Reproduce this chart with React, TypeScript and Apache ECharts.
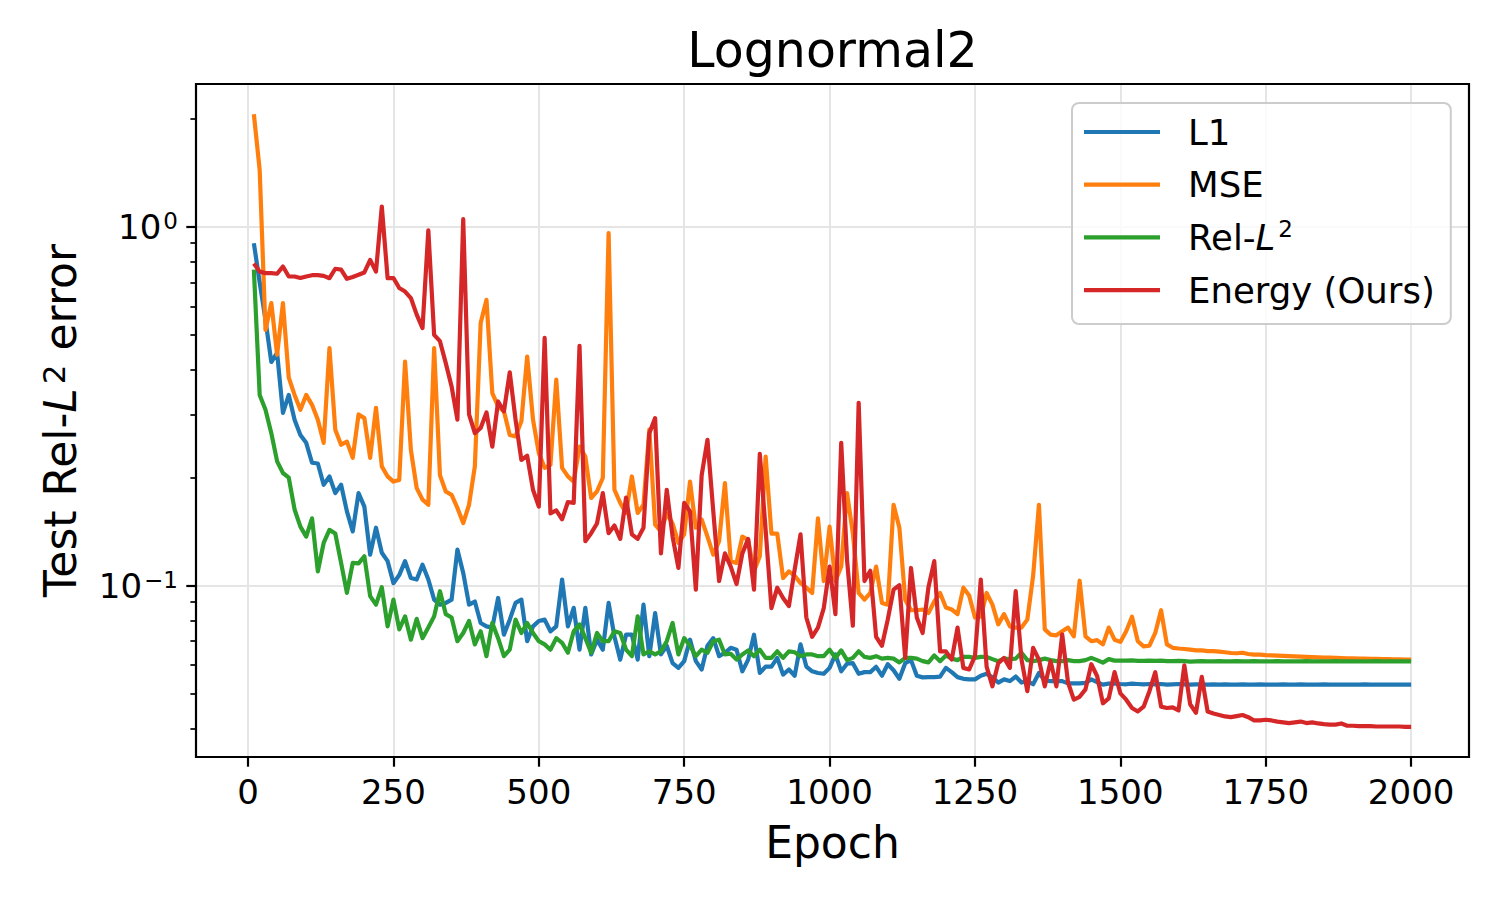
import React, { useEffect, useRef } from "react";
import * as echarts from "echarts";

// ---------------- data ----------------
const epochs = [
  10, 20, 30, 40, 50, 60, 70, 80, 90, 100,
  110, 120, 130, 140, 150, 160, 170, 180, 190, 200,
  210, 220, 230, 240, 250, 260, 270, 280, 290, 300,
  310, 320, 330, 340, 350, 360, 370, 380, 390, 400,
  410, 420, 430, 440, 450, 460, 470, 480, 490, 500,
  510, 520, 530, 540, 550, 560, 570, 580, 590, 600,
  610, 620, 630, 640, 650, 660, 670, 680, 690, 700,
  710, 720, 730, 740, 750, 760, 770, 780, 790, 800,
  810, 820, 830, 840, 850, 860, 870, 880, 890, 900,
  910, 920, 930, 940, 950, 960, 970, 980, 990, 1000,
  1010, 1020, 1030, 1040, 1050, 1060, 1070, 1080, 1090, 1100,
  1110, 1120, 1130, 1140, 1150, 1160, 1170, 1180, 1190, 1200,
  1210, 1220, 1230, 1240, 1250, 1260, 1270, 1280, 1290, 1300,
  1310, 1320, 1330, 1340, 1350, 1360, 1370, 1380, 1390, 1400,
  1410, 1420, 1430, 1440, 1450, 1460, 1470, 1480, 1490, 1500,
  1510, 1520, 1530, 1540, 1550, 1560, 1570, 1580, 1590, 1600,
  1610, 1620, 1630, 1640, 1650, 1660, 1670, 1680, 1690, 1700,
  1710, 1720, 1730, 1740, 1750, 1760, 1770, 1780, 1790, 1800,
  1810, 1820, 1830, 1840, 1850, 1860, 1870, 1880, 1890, 1900,
  1910, 1920, 1930, 1940, 1950, 1960, 1970, 1980, 1990, 2000,
];

const l1Values = [
  0.90, 0.70, 0.55, 0.42, 0.445, 0.303, 0.34, 0.29, 0.263, 0.25,
  0.22, 0.219, 0.191, 0.2015, 0.181, 0.191, 0.161, 0.1416, 0.181, 0.166,
  0.122, 0.145, 0.1235, 0.117, 0.1016, 0.107, 0.117, 0.105, 0.104, 0.1144,
  0.104, 0.0914, 0.0885, 0.0895, 0.0914, 0.126, 0.1085, 0.0885, 0.0903, 0.0787,
  0.077, 0.0764, 0.0924, 0.073, 0.0804, 0.0895, 0.0914, 0.07, 0.077, 0.0797,
  0.0804, 0.0746, 0.077, 0.104, 0.077, 0.0867, 0.0663, 0.0867, 0.0643, 0.0707,
  0.0663, 0.0895, 0.0722, 0.0622, 0.073, 0.073, 0.0622, 0.0885, 0.0636, 0.0839,
  0.0643, 0.068, 0.0608, 0.059, 0.0616, 0.0707, 0.0616, 0.0584, 0.068, 0.0714,
  0.0636, 0.065, 0.0671, 0.0663, 0.0577, 0.0622, 0.073, 0.0571, 0.0595, 0.0595,
  0.0629, 0.0565, 0.0584, 0.0561, 0.0686, 0.0595, 0.0577, 0.0571, 0.0568, 0.059,
  0.0643, 0.0577, 0.0606, 0.0608, 0.0568, 0.0574, 0.0574, 0.0594, 0.0561, 0.0604,
  0.0581, 0.055, 0.0608, 0.062, 0.0561, 0.0555, 0.0556, 0.0556, 0.0558, 0.059,
  0.0574, 0.0556, 0.055, 0.0548, 0.0548, 0.0561, 0.0568, 0.0555, 0.0537, 0.0548,
  0.0542, 0.0558, 0.0537, 0.0542, 0.0531, 0.0571, 0.0544, 0.0542, 0.0542, 0.0542,
  0.0534, 0.0534, 0.0534, 0.0536, 0.0548, 0.0538, 0.053, 0.0533, 0.0534, 0.0532,
  0.0531, 0.0533, 0.0532, 0.0531, 0.0532, 0.0531, 0.0532, 0.053, 0.0531, 0.0532,
  0.0531, 0.053, 0.0531, 0.0531, 0.053, 0.0531, 0.053, 0.0531, 0.053, 0.053,
  0.0531, 0.053, 0.053, 0.0531, 0.053, 0.053, 0.053, 0.0531, 0.053, 0.053,
  0.0531, 0.053, 0.053, 0.053, 0.0531, 0.053, 0.053, 0.053, 0.053, 0.053,
  0.053, 0.0531, 0.053, 0.053, 0.053, 0.053, 0.053, 0.053, 0.053, 0.053,
];

const mseValues = [
  2.06, 1.44, 0.516, 0.613, 0.44, 0.613, 0.38, 0.34, 0.309, 0.34,
  0.319, 0.29, 0.25, 0.459, 0.272, 0.247, 0.252, 0.227, 0.30, 0.293,
  0.227, 0.313, 0.215, 0.2015, 0.195, 0.197, 0.421, 0.239, 0.187, 0.1736,
  0.168, 0.459, 0.203, 0.183, 0.179, 0.1646, 0.1494, 0.168, 0.215, 0.539,
  0.626, 0.344, 0.316, 0.306, 0.263, 0.2606, 0.287, 0.435, 0.29, 0.234,
  0.213, 0.217, 0.375, 0.213, 0.2015, 0.195, 0.244, 0.229, 0.1755, 0.183,
  0.1995, 0.96, 0.185, 0.17, 0.1594, 0.2015, 0.1594, 0.168, 0.272, 0.148,
  0.1416, 0.159, 0.149, 0.1315, 0.139, 0.195, 0.145, 0.153, 0.137, 0.122,
  0.133, 0.193, 0.117, 0.1157, 0.137, 0.134, 0.1096, 0.1207, 0.229, 0.1397,
  0.1397, 0.105, 0.1096, 0.1065, 0.1016, 0.0987, 0.0954, 0.154, 0.103, 0.146,
  0.103, 0.113, 0.181, 0.1397, 0.0954, 0.0914, 0.0954, 0.113, 0.0895, 0.0885,
  0.168, 0.145, 0.0914, 0.0854, 0.0854, 0.0858, 0.0839, 0.0903, 0.0954, 0.0869,
  0.0858, 0.0833, 0.0987, 0.0938, 0.0815, 0.0819, 0.0954, 0.0885, 0.078, 0.0833,
  0.077, 0.0764, 0.0764, 0.0804, 0.1065, 0.168, 0.0755, 0.073, 0.0727, 0.0746,
  0.0764, 0.0722, 0.1032, 0.0722, 0.07, 0.0705, 0.0686, 0.0764, 0.0707, 0.0697,
  0.0746, 0.0819, 0.07, 0.0677, 0.068, 0.0738, 0.0854, 0.0686, 0.0671, 0.0668,
  0.0666, 0.0663, 0.066, 0.066, 0.0657, 0.0657, 0.0655, 0.0652, 0.0649, 0.0648,
  0.065, 0.0645, 0.0642, 0.0642, 0.064, 0.0639, 0.0638, 0.0637, 0.0636, 0.0635,
  0.0634, 0.0633, 0.0632, 0.0631, 0.063, 0.063, 0.0629, 0.0628, 0.0627, 0.0627,
  0.0626, 0.0626, 0.0625, 0.0625, 0.0624, 0.0624, 0.0623, 0.0623, 0.0622, 0.0622,
];

const relL2Values = [
  0.76, 0.34, 0.309, 0.266, 0.222, 0.206, 0.2, 0.163, 0.146, 0.137,
  0.154, 0.1096, 0.1315, 0.143, 0.1397, 0.1157, 0.0954, 0.1157, 0.1153, 0.1207,
  0.0935, 0.0885, 0.099, 0.077, 0.0914, 0.0755, 0.0821, 0.0707, 0.0808, 0.0714,
  0.0764, 0.0821, 0.0965, 0.0833, 0.0815, 0.07, 0.0738, 0.0797, 0.0686, 0.0746,
  0.0636, 0.0787, 0.0714, 0.0636, 0.0663, 0.0804, 0.0738, 0.0787, 0.0738, 0.07,
  0.0686, 0.0663, 0.0714, 0.0693, 0.065, 0.0746, 0.078, 0.0714, 0.065, 0.0738,
  0.07, 0.07, 0.0746, 0.0738, 0.0663, 0.0636, 0.0821, 0.0643, 0.0656, 0.0643,
  0.0656, 0.07, 0.0787, 0.0643, 0.0714, 0.068, 0.0636, 0.0663, 0.065, 0.07,
  0.0707, 0.0643, 0.0646, 0.0622, 0.0643, 0.066, 0.0636, 0.0663, 0.0629, 0.0629,
  0.0656, 0.0629, 0.0656, 0.0652, 0.0636, 0.0643, 0.0643, 0.0636, 0.0636, 0.0663,
  0.0629, 0.066, 0.062, 0.0629, 0.0656, 0.0633, 0.0629, 0.0636, 0.0626, 0.0629,
  0.0626, 0.0611, 0.0629, 0.0629, 0.0626, 0.0616, 0.0611, 0.0639, 0.0616, 0.0639,
  0.0626, 0.062, 0.0633, 0.0633, 0.0629, 0.0633, 0.0633, 0.0624, 0.0616, 0.0626,
  0.0624, 0.0626, 0.065, 0.062, 0.0616, 0.062, 0.0626, 0.062, 0.0616, 0.0616,
  0.062, 0.0616, 0.0616, 0.062, 0.0629, 0.062, 0.061, 0.0624, 0.0618, 0.0618,
  0.0618, 0.0619, 0.0617, 0.0617, 0.0618, 0.0617, 0.0618, 0.0616, 0.0616, 0.0617,
  0.0616, 0.0614, 0.0615, 0.0616, 0.0615, 0.0615, 0.0616, 0.0615, 0.0615, 0.0616,
  0.0615, 0.0615, 0.0616, 0.0615, 0.0615, 0.0615, 0.0616, 0.0615, 0.0615, 0.0615,
  0.0615, 0.0616, 0.0615, 0.0615, 0.0615, 0.0615, 0.0616, 0.0615, 0.0615, 0.0615,
  0.0615, 0.0615, 0.0615, 0.0616, 0.0615, 0.0615, 0.0615, 0.0615, 0.0615, 0.0615,
];

const energyValues = [
  0.79, 0.75, 0.743, 0.743, 0.74, 0.775, 0.727, 0.727, 0.72, 0.727,
  0.733, 0.733, 0.73, 0.719, 0.764, 0.76, 0.716, 0.725, 0.735, 0.746,
  0.809, 0.75, 1.139, 0.719, 0.72, 0.675, 0.66, 0.633, 0.569, 0.522,
  0.977, 0.50, 0.48, 0.417, 0.359, 0.29, 1.05, 0.30, 0.266, 0.275,
  0.304, 0.244, 0.326, 0.306, 0.393, 0.29, 0.224, 0.23, 0.185, 0.166,
  0.49, 0.159, 0.162, 0.153, 0.171, 0.17, 0.466, 0.133, 0.14, 0.149,
  0.181, 0.14, 0.147, 0.135, 0.176, 0.139, 0.135, 0.145, 0.266, 0.293,
  0.123, 0.185, 0.137, 0.112, 0.17, 0.161, 0.0975, 0.203, 0.255, 0.161,
  0.103, 0.123, 0.113, 0.101, 0.123, 0.135, 0.0975, 0.233, 0.143, 0.0866,
  0.0987, 0.0924, 0.0877, 0.111, 0.139, 0.0815, 0.072, 0.0764, 0.0866, 0.113,
  0.0833, 0.25, 0.118, 0.0773, 0.323, 0.103, 0.11, 0.072, 0.068, 0.0804,
  0.0975, 0.1003, 0.0629, 0.112, 0.0815, 0.0738, 0.099, 0.117, 0.0656, 0.0656,
  0.0622, 0.0764, 0.059, 0.0584, 0.0636, 0.104, 0.0595, 0.0524, 0.0608, 0.0629,
  0.059, 0.0965, 0.0622, 0.0508, 0.0671, 0.0622, 0.0524, 0.0616, 0.0524, 0.0731,
  0.0537, 0.0481, 0.049, 0.0514, 0.0604, 0.056, 0.047, 0.0485, 0.0574, 0.0501,
  0.0481, 0.0456, 0.0446, 0.046, 0.0508, 0.0574, 0.046, 0.0456, 0.0458, 0.0449,
  0.06, 0.0467, 0.0442, 0.0557, 0.0446, 0.044, 0.0436, 0.0432, 0.043, 0.0433,
  0.0436, 0.043, 0.0421, 0.0421, 0.0423, 0.0421, 0.0418, 0.0416, 0.0414, 0.0416,
  0.0418, 0.0414, 0.0416, 0.0413, 0.0411, 0.041, 0.041, 0.0413, 0.0407, 0.0407,
  0.0406, 0.0406, 0.0406, 0.0405, 0.0405, 0.0405, 0.0405, 0.0405, 0.0404, 0.0404,
];

const seriesNames = ["L1", "MSE", "Rel-L²", "Energy (Ours)"];
const seriesValues = [l1Values, mseValues, relL2Values, energyValues];
const seriesColors = ["#1f77b4", "#ff7f0e", "#2ca02c", "#d62728"];

const xTicks = [0, 250, 500, 750, 1000, 1250, 1500, 1750, 2000];
const yMajorTicks = [0.1, 1];
const yMinorTicks = [0.04, 0.05, 0.06, 0.07, 0.08, 0.09, 0.2, 0.3, 0.4, 0.5, 0.6, 0.7, 0.8, 0.9, 2];

const titleText = "Lognormal2";
const xLabel = "Epoch";

// ---------------- styling ----------------
const FONT = "'DejaVu Sans', 'Noto Sans', sans-serif";
const GRID = { left: 196, top: 84, width: 1273, height: 673 };
const X_MIN = -89.5;
const X_MAX = 2099.5;
const Y_MIN = 0.0333;
const Y_MAX = 2.5;

function buildOption(): echarts.EChartsOption {
  const series: any[] = seriesNames.map((name, si) => ({
    name,
    type: "line" as const,
    xAxisIndex: 0,
    yAxisIndex: 0,
    data: epochs.map((e, i) => [e, seriesValues[si][i]]),
    showSymbol: false,
    symbol: "none",
    silent: true,
    lineStyle: { color: seriesColors[si], width: 4.2, join: "round" as const, cap: "butt" as const },
    itemStyle: { color: seriesColors[si] },
    emphasis: { disabled: true },
    z: 3 + si,
  }));
  // invisible helper series so that the minor-tick axis is laid out and drawn
  series.push({
    name: "__minor",
    type: "line",
    xAxisIndex: 0,
    yAxisIndex: 1,
    data: [[X_MIN, Y_MIN]],
    showSymbol: false,
    symbol: "none",
    silent: true,
    lineStyle: { opacity: 0, width: 0 },
    itemStyle: { opacity: 0 },
    emphasis: { disabled: true },
    z: 0,
  });

  return {
    animation: false,
    backgroundColor: "#ffffff",
    grid: {
      ...GRID,
      containLabel: false,
      show: true,
      borderColor: "#000000",
      borderWidth: 2.2,
      backgroundColor: "transparent",
      z: 10,
    },
    legend: {
      show: true,
      orient: "vertical",
      left: 1072,
      top: 103,
      padding: [9, 16, 14, 12],
      itemWidth: 76,
      itemHeight: 4.2,
      itemGap: 12.7,
      icon: "rect",
      selectedMode: false,
      backgroundColor: "rgba(255,255,255,0.8)",
      borderColor: "#cccccc",
      borderWidth: 2,
      borderRadius: 7,
      data: seriesNames.map((n) => ({ name: n, icon: "rect" })),
      formatter: (name: string) => (name === "Rel-L²" ? "Rel-{it|L}{sup|2}" : name),
      textStyle: {
        fontFamily: FONT,
        fontSize: 35.5,
        color: "#000",
        lineHeight: 40,
        padding: [0, 0, 0, 23],
        rich: {
          it: { fontFamily: FONT, fontSize: 35.5, fontStyle: "italic", color: "#000", lineHeight: 40 },
          sup: { fontFamily: FONT, fontSize: 23, color: "#000", lineHeight: 25, verticalAlign: "top", padding: [0, 0, 0, 3] },
        },
      },
      z: 20,
    },
    xAxis: {
      type: "value",
      min: X_MIN,
      max: X_MAX,
      minInterval: 250,
      maxInterval: 250,
      position: "bottom",
      name: xLabel,
      nameLocation: "middle",
      nameGap: 63,
      nameTextStyle: { fontFamily: FONT, fontSize: 44, color: "#000", lineHeight: 44 },
      axisLine: { show: false, onZero: false },
      axisTick: {
        show: true,
        inside: false,
        length: 9.7,
        lineStyle: { color: "#000", width: 2.2 },
        customValues: xTicks,
      },
      axisLabel: {
        show: true,
        margin: 18,
        fontFamily: FONT,
        fontSize: 34,
        color: "#000",
        lineHeight: 34,
        customValues: xTicks,
        formatter: (v: number) => String(Math.round(v)),
      },
      splitLine: { show: true, lineStyle: { color: "#e5e5e5", width: 2 } },
    } as any,
    yAxis: [
      {
        type: "log",
        logBase: 10,
        min: Y_MIN,
        max: Y_MAX,
        position: "left",
        axisLine: { show: false, onZero: false },
        axisTick: {
          show: true,
          inside: false,
          length: 9.7,
          lineStyle: { color: "#000", width: 2.2 },
          customValues: yMajorTicks,
        },
        axisLabel: {
          show: true,
          margin: 18,
          fontFamily: FONT,
          fontSize: 34,
          color: "#000",
          lineHeight: 34,
          customValues: yMajorTicks,
          formatter: (v: number) => {
            const p = Math.round(Math.log10(v));
            return "10{sup|" + (p < 0 ? "\u2212" + Math.abs(p) : String(p)) + "}";
          },
          rich: {
            sup: { fontFamily: FONT, fontSize: 23, color: "#000", lineHeight: 16, verticalAlign: "top", padding: [0, 0, 0, 2] },
          },
        },
        splitLine: { show: true, lineStyle: { color: "#e5e5e5", width: 2 } },
        minorTick: { show: false },
      },
      {
        type: "log",
        logBase: 10,
        min: Y_MIN,
        max: Y_MAX,
        position: "left",
        offset: 0,
        axisLine: { show: false, onZero: false },
        axisTick: {
          show: true,
          inside: false,
          length: 5.6,
          lineStyle: { color: "#000", width: 1.7 },
          customValues: yMinorTicks,
        },
        axisLabel: { show: false, customValues: yMinorTicks },
        splitLine: { show: false },
        minorTick: { show: false },
      },
    ] as any,
    graphic: [
      {
        type: "text",
        x: 832.5,
        y: 50,
        silent: true,
        style: {
          text: titleText,
          fontFamily: FONT,
          fontSize: 49,
          fill: "#000",
          align: "center",
          verticalAlign: "middle",
        },
      },
      {
        type: "text",
        x: 60,
        y: 420.5,
        rotation: Math.PI / 2,
        silent: true,
        style: {
          text: "Test Rel-{it|L}{sup|2} error",
          fontFamily: FONT,
          fontSize: 44,
          fill: "#000",
          lineHeight: 44,
          align: "center",
          verticalAlign: "middle",
          rich: {
            it: { fontFamily: FONT, fontSize: 44, fontStyle: "italic", fill: "#000", lineHeight: 44 },
            sup: { fontFamily: FONT, fontSize: 31, fill: "#000", lineHeight: 24, verticalAlign: "top", padding: [0, 0, 0, 4] },
          },
        },
      },
    ] as any,
    series,
  };
}

export default function App() {
  const ref = useRef<HTMLDivElement>(null);
  useEffect(() => {
    if (!ref.current) return;
    const chart = echarts.init(ref.current, null, { renderer: "svg", width: 1500, height: 900 });
    chart.setOption(buildOption());
    return () => {
      chart.dispose();
    };
  }, []);
  return (
    <div
      ref={ref}
      style={{ position: "absolute", left: 0, top: 0, width: 1500, height: 900, background: "#ffffff" }}
    />
  );
}
